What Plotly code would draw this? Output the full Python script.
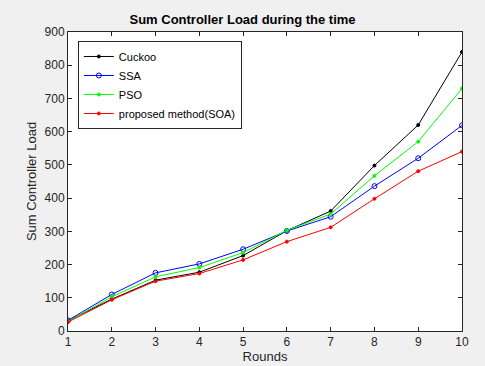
import plotly.graph_objects as go

rounds = [1, 2, 3, 4, 5, 6, 7, 8, 9, 10]
cuckoo = [31, 96, 153, 177, 227, 302, 361, 498, 620, 840]
ssa = [32, 110, 175, 202, 246, 301, 344, 436, 520, 619]
pso = [29, 103, 163, 191, 236, 303, 352, 467, 570, 730]
soa = [27, 94, 150, 173, 214, 269, 312, 398, 481, 540]

series = [
    ("Cuckoo", cuckoo, "#000000", "circle", 3),
    ("SSA", ssa, "#0000ff", "circle-open", 5),
    ("PSO", pso, "#00ff00", "circle", 3),
    ("proposed method(SOA)", soa, "#ff0000", "circle", 3),
]

fig = go.Figure()
for name, vals, color, sym, size in series:
    fig.add_trace(go.Scatter(
        x=rounds, y=vals, name=name, mode="lines+markers",
        line=dict(color=color, width=1),
        marker=dict(color=color, symbol=sym, size=size, line=dict(color=color, width=1)),
    ))

FONT = "Arial, Liberation Sans"
axis_common = dict(
    showline=True, linecolor="#262626", linewidth=1, mirror="allticks",
    ticks="inside", ticklen=4, tickcolor="#262626",
    showgrid=False, zeroline=False, automargin=False,
    tickfont=dict(family=FONT, size=12, color="#262626"),
)

fig.update_layout(
    width=485, height=366,
    paper_bgcolor="#f0f0f0", plot_bgcolor="#ffffff",
    margin=dict(l=68, r=23, t=32, b=35, autoexpand=False),
    title=dict(text="<b>Sum Controller Load during the time</b>", x=0.5, xanchor="center",
               y=0.948, yanchor="middle",
               font=dict(family=FONT, size=13, color="#000000")),
    xaxis=dict(range=[1, 10], tickvals=rounds, title=dict(text="Rounds", standoff=3,
               font=dict(family=FONT, size=13, color="#262626")), **axis_common),
    yaxis=dict(range=[0, 900], dtick=100, title=dict(text="Sum Controller Load", standoff=5,
               font=dict(family=FONT, size=13, color="#262626")), **axis_common),
    legend=dict(x=0.025, y=0.97, xanchor="left", yanchor="top",
                bgcolor="#ffffff", bordercolor="#262626", borderwidth=1,
                font=dict(family=FONT, size=11, color="#000000"),
                tracegroupgap=0, itemwidth=30),
    showlegend=True,
)

fig.write_html("out.html")
